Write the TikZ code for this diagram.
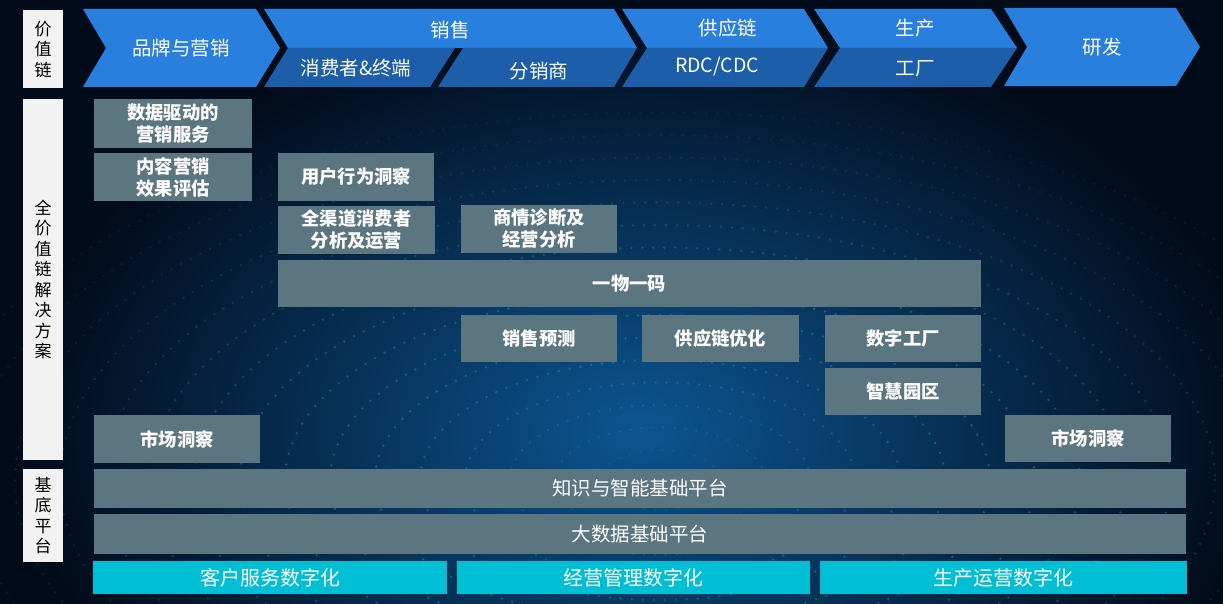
\documentclass[tikz,border=0pt]{standalone}
\usepackage{fontspec}
\setmainfont{Noto Sans CJK SC}
\definecolor{bgdark}{RGB}{2,11,26}
\definecolor{glow}{RGB}{12,85,145}
\definecolor{chev}{RGB}{40,127,222}
\definecolor{chevdark}{RGB}{29,94,170}
\definecolor{slate}{RGB}{91,117,129}
\definecolor{cyanbar}{RGB}{0,190,212}
\definecolor{lbl}{RGB}{242,242,242}
\definecolor{dotc}{RGB}{30,185,205}
\tikzset{
  chevup/.style={fill=chev, draw=none},
  chevlow/.style={fill=chevdark, draw=none},
  ctext/.style={text=white, font=\fontsize{19.5}{22}\selectfont, inner sep=0pt},
  sbox/.style={fill=slate, draw=none, inner sep=0pt, text=white, font=\bfseries\fontsize{18.3}{22}\selectfont, align=center},
  pbox/.style={fill=slate, draw=none, inner sep=0pt, text=white, font=\fontsize{19.5}{22}\selectfont},
  cbox/.style={fill=cyanbar, draw=none, inner sep=0pt, text=white, font=\fontsize{20}{22}\selectfont},
  lblbox/.style={fill=lbl, draw=none, inner sep=0pt, text=black, font=\fontsize{17}{20.5}\selectfont, align=center},
  dotring/.style={dotc, line width=2.8pt, line cap=round, dash pattern=on 0pt off 11pt},
}
\begin{document}
\begin{tikzpicture}[x=1pt,y=-1pt]
\useasboundingbox (0,0) rectangle (1223,604);
% background
\fill[bgdark] (0,0) rectangle (1223,604);
\begin{scope}
\clip (0,0) rectangle (1223,604);
\shade[inner color=glow, outer color=bgdark] (640,430) ellipse (620 and 420);
\foreach \r/\o in {40/0.12,70/0.17,100/0.22,130/0.27,160/0.31,190/0.33,220/0.34,250/0.33,280/0.31,310/0.27,340/0.23,370/0.19,400/0.15,430/0.12,460/0.09,490/0.07}
  \draw[dotring, opacity=\o] (660,480) ellipse ({\r*1.5} and {\r*0.75});
\end{scope}

% left labels
\node[lblbox, minimum width=40pt, minimum height=78pt] (L1) at (43,49) {价\\值\\链};
\node[lblbox, minimum width=40pt, minimum height=361pt] (L2) at (43,279.5) {全\\价\\值\\链\\解\\决\\方\\案};
\node[lblbox, minimum width=40pt, minimum height=93pt] (L3) at (43,515.5) {基\\底\\平\\台};

% chevrons
\fill[chevup] (83,9) -- (256,9) -- (280,48) -- (256,87) -- (83,87) -- (106,48) -- cycle;
\node[ctext] (c1t) at (181,48) {品牌与营销};

\fill[chevup] (264,9) -- (614,9) -- (637,48) -- (288,48) -- cycle;
\fill[chevlow] (288,48) -- (455,48) -- (430,87) -- (264,87) -- cycle;
\fill[chevlow] (463,48) -- (637,48) -- (614,87) -- (438,87) -- cycle;
\node[ctext] (c2t) at (450,30) {销售};
\node[ctext] (c2a) at (356,68) {消费者\&终端};
\node[ctext] (c2b) at (539,71) {分销商};

\fill[chevup] (622,9) -- (804,9) -- (828,48) -- (647,48) -- cycle;
\fill[chevlow] (647,48) -- (828,48) -- (804,87) -- (622,87) -- cycle;
\node[ctext] (c3t) at (728,28) {供应链};
\node[ctext] (c3b) at (717,67) {RDC/CDC};

\fill[chevup] (814,9) -- (991,9) -- (1017,48) -- (840,48) -- cycle;
\fill[chevlow] (840,48) -- (1017,48) -- (991,87) -- (814,87) -- cycle;
\node[ctext] (c4t) at (915,28) {生产};
\node[ctext] (c4b) at (915,69) {工厂};

\fill[chevup] (1004,8) -- (1176,8) -- (1200,47) -- (1176,86) -- (1004,86) -- (1027,47) -- cycle;
\node[ctext] (c5t) at (1102,47) {研发};

% solution boxes
\node[sbox, minimum width=158pt, minimum height=49pt] (d1) at (173,123.5) {数据驱动的\\营销服务};
\node[sbox, minimum width=158pt, minimum height=48pt] (d2) at (173,177) {内容营销\\效果评估};
\node[sbox, minimum width=156pt, minimum height=48pt] (u1) at (356,177) {用户行为洞察};
\node[sbox, minimum width=157pt, minimum height=48pt] (u2) at (356.5,230) {全渠道消费者\\分析及运营};
\node[sbox, minimum width=156pt, minimum height=48pt] (s1) at (539,229) {商情诊断及\\经营分析};
\node[sbox, minimum width=703pt, minimum height=47pt] (ym) at (629.5,283.5) {一物一码};
\node[sbox, minimum width=156pt, minimum height=47pt] (xs) at (539,338.5) {销售预测};
\node[sbox, minimum width=157pt, minimum height=47pt] (gy) at (720.5,338.5) {供应链优化};
\node[sbox, minimum width=156pt, minimum height=47pt] (sz) at (903,338.5) {数字工厂};
\node[sbox, minimum width=156pt, minimum height=47pt] (zh) at (903,391.5) {智慧园区};
\node[sbox, minimum width=166pt, minimum height=48pt] (m1) at (177,439) {市场洞察};
\node[sbox, minimum width=166pt, minimum height=47pt] (m2) at (1088,438.5) {市场洞察};

% platform
\node[pbox, minimum width=1092pt, minimum height=39pt] (k1) at (640,488.5) {知识与智能基础平台};
\node[pbox, minimum width=1092pt, minimum height=40pt] (k2) at (640,534) {大数据基础平台};
\node[cbox, minimum width=354pt, minimum height=33pt] (b1) at (270,577.5) {客户服务数字化};
\node[cbox, minimum width=353pt, minimum height=33pt] (b2) at (633.5,577.5) {经营管理数字化};
\node[cbox, minimum width=367pt, minimum height=33pt] (b3) at (1003.5,577.5) {生产运营数字化};
\end{tikzpicture}
\end{document}
